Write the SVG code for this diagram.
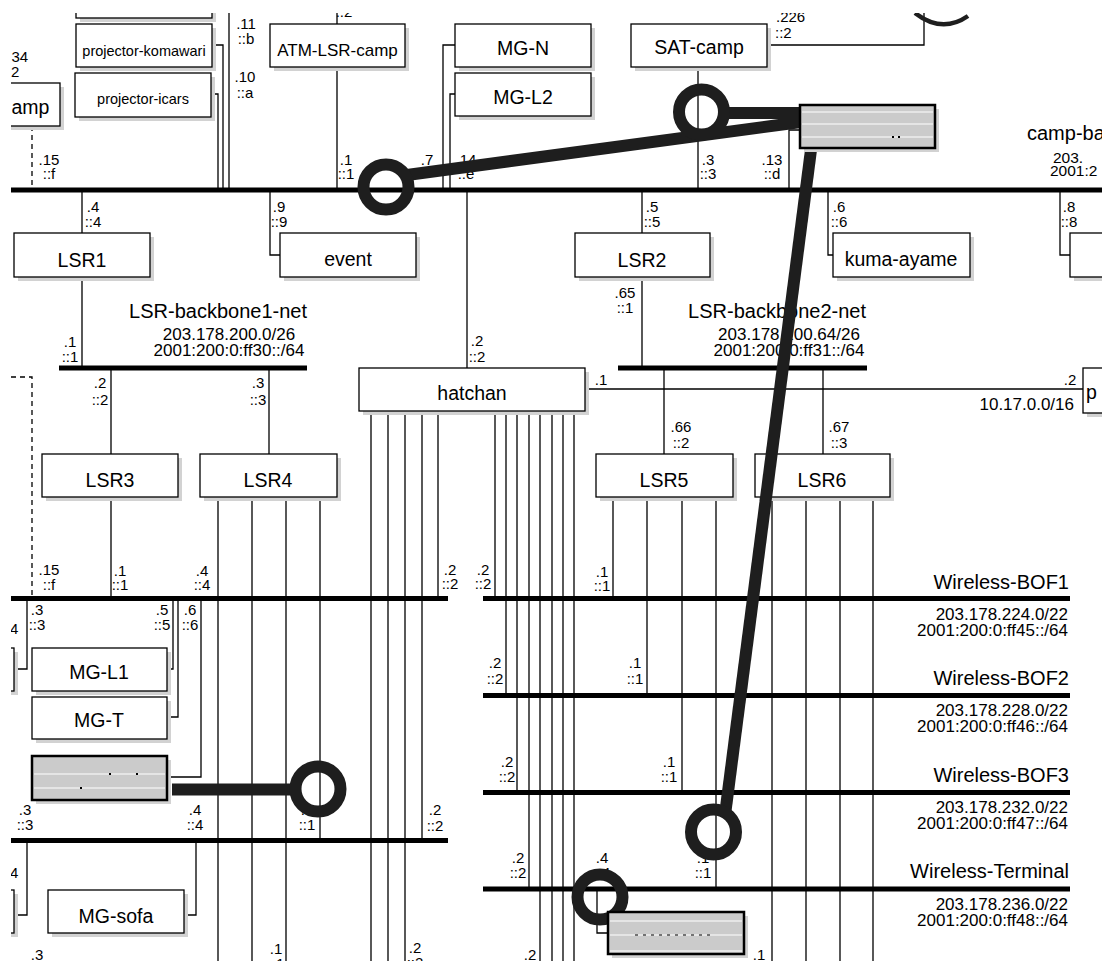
<svg xmlns="http://www.w3.org/2000/svg" width="1102" height="961" viewBox="0 0 1102 961">
<defs>
<clipPath id="cp"><rect x="11" y="13" width="1091" height="948"/></clipPath>
<style>
.ln{stroke:#000;stroke-width:1.3;fill:none}
.ds{stroke:#000;stroke-width:1.3;fill:none;stroke-dasharray:5 4}
.seg{stroke:#000;stroke-width:5;fill:none}
.box{fill:#fff;stroke:#000;stroke-width:1.3}
.shd{fill:#d2d2d2}
.gb{fill:#cbcbcb;stroke:#000;stroke-width:2.5}
.wl{stroke:#fff;stroke-width:1.2}
.dot{fill:#000}
text{font-family:"Liberation Sans",Arial,Helvetica,sans-serif;fill:#000}
.nm{font-size:19.5px;text-anchor:middle}
.sm{font-size:14.5px;text-anchor:middle}
.lb{font-size:15px;text-anchor:middle}
.ls{font-size:15px;text-anchor:start}
.nn{font-size:20px;text-anchor:end}
.ad{font-size:17px;text-anchor:end}
.ac{font-size:17px;text-anchor:middle}
.thk{stroke:#1e1e1e;stroke-width:12;fill:none}
</style>
</defs>
<rect width="1102" height="961" fill="#fff"/>
<g clip-path="url(#cp)">

<g id="connectors" class="ln">
<path d="M212,45H223V190"/>
<path d="M211,94H218V190"/>
<path d="M229,0V190"/>
<path class="ds" d="M32,126V190"/>
<path d="M337,0V24M337,67V190"/>
<path d="M455,45H443V190"/>
<path d="M455,94H450V190"/>
<path d="M467,190V368"/>
<path d="M698,67V190"/>
<path d="M767,45H924V0"/>
<path d="M800,130H789V190"/>
<path d="M82,190V233M82,277V368"/>
<path d="M270,190V255H280"/>
<path d="M642,190V233M642,277V368"/>
<path d="M828,190V255H833"/>
<path d="M1060,190V255H1070"/>
<path d="M111,368V454M111,497V598"/>
<path d="M269,368V454"/>
<path d="M218,497V961M252,497V961M286,497V961M320,497V840"/>
<path d="M585,389H1083"/>
<path d="M371,411V961M388,411V961M405,411V961M422,411V840M438,411V598"/>
<path d="M495,411V598M506,411V696M517,411V792M529,411V889M540,411V961M552,411V961M563,411V961M574,411V961"/>
<path d="M664,368V454M613,497V598M647,497V696M682,497V792M716,497V889"/>
<path d="M823,368V454M772,497V961M806,497V961M840,497V961M873,497V961"/>
<path d="M27,598V669H14"/>
<path d="M167,669H173V598"/>
<path d="M167,717H178V598"/>
<path d="M167,777H201V598"/>
<path class="ds" d="M11,377H32V598"/>
<path d="M27,840V915H14"/>
<path d="M196,840V915H184"/>
<path d="M597,889V933H608"/>
</g>

<g id="networks">
<g id="camp-backbone"><line class="seg" x1="11" y1="190" x2="1110" y2="190"/>
<text class="nn" x="1027" y="140" style="text-anchor:start">camp-ba</text>
<text class="ad" x="1053" y="163" style="text-anchor:start;font-size:15.5px">203.</text>
<text class="ad" x="1050" y="176" style="text-anchor:start;font-size:15.5px">2001:2</text></g>
<g id="LSR-backbone1-net"><line class="seg" x1="59" y1="368" x2="307" y2="368"/>
<text class="nn" x="307" y="318">LSR-backbone1-net</text>
<text class="ac" x="229" y="340">203.178.200.0/26</text>
<text class="ac" x="229" y="356">2001:200:0:ff30::/64</text></g>
<g id="LSR-backbone2-net"><line class="seg" x1="618" y1="368" x2="867" y2="368"/>
<text class="nn" x="866" y="318">LSR-backbone2-net</text>
<text class="ac" x="789" y="340">203.178.200.64/26</text>
<text class="ac" x="789" y="356">2001:200:0:ff31::/64</text></g>
<g id="net-10-17"><text class="ad" x="1074" y="410">10.17.0.0/16</text></g>
<g id="left-net1"><line class="seg" x1="11" y1="598.5" x2="448" y2="598.5"/></g>
<g id="left-net2"><line class="seg" x1="11" y1="840.5" x2="448" y2="840.5"/></g>
<g id="Wireless-BOF1"><line class="seg" x1="483" y1="598.5" x2="1070" y2="598.5"/>
<text class="nn" x="1069" y="589">Wireless-BOF1</text>
<text class="ad" x="1068" y="620">203.178.224.0/22</text>
<text class="ad" x="1068" y="636">2001:200:0:ff45::/64</text></g>
<g id="Wireless-BOF2"><line class="seg" x1="483" y1="695.5" x2="1070" y2="695.5"/>
<text class="nn" x="1069" y="685">Wireless-BOF2</text>
<text class="ad" x="1068" y="716">203.178.228.0/22</text>
<text class="ad" x="1068" y="732">2001:200:0:ff46::/64</text></g>
<g id="Wireless-BOF3"><line class="seg" x1="483" y1="792.5" x2="1070" y2="792.5"/>
<text class="nn" x="1069" y="782">Wireless-BOF3</text>
<text class="ad" x="1068" y="813">203.178.232.0/22</text>
<text class="ad" x="1068" y="829">2001:200:0:ff47::/64</text></g>
<g id="Wireless-Terminal"><line class="seg" x1="483" y1="889" x2="1070" y2="889"/>
<text class="nn" x="1069" y="878">Wireless-Terminal</text>
<text class="ad" x="1068" y="910">203.178.236.0/22</text>
<text class="ad" x="1068" y="926">2001:200:0:ff48::/64</text></g>
</g>

<g id="top-box"><rect class="shd" x="80" y="-26" width="136" height="48"/><rect class="box" x="76" y="-30" width="136" height="48"/></g>
<g id="projector-komawari"><rect class="shd" x="80" y="28" width="136" height="43"/><rect class="box" x="76" y="24" width="136" height="43"/><text class="sm" x="144" y="56">projector-komawari</text></g>
<g id="projector-icars"><rect class="shd" x="79" y="77" width="136" height="44"/><rect class="box" x="75" y="73" width="136" height="44"/><text class="sm" x="143" y="104">projector-icars</text></g>
<g id="camp"><rect class="shd" x="-96" y="87" width="160" height="43"/><rect class="box" x="-100" y="83" width="160" height="43"/><text class="nm" x="11.5" y="114" style="text-anchor:start">amp</text></g>
<g id="ATM-LSR-camp"><rect class="shd" x="274" y="28" width="135" height="43"/><rect class="box" x="270" y="24" width="135" height="43"/><text class="nm" x="337.5" y="56" style="font-size:17px">ATM-LSR-camp</text></g>
<g id="MG-N"><rect class="shd" x="459" y="28" width="136" height="43"/><rect class="box" x="455" y="24" width="136" height="43"/><text class="nm" x="523" y="55">MG-N</text></g>
<g id="MG-L2"><rect class="shd" x="459" y="77" width="136" height="43"/><rect class="box" x="455" y="73" width="136" height="43"/><text class="nm" x="523" y="104">MG-L2</text></g>
<g id="SAT-camp"><rect class="shd" x="635" y="28" width="136" height="43"/><rect class="box" x="631" y="24" width="136" height="43"/><text class="nm" x="699" y="54">SAT-camp</text></g>
<g id="LSR1"><rect class="shd" x="18" y="237" width="136" height="44"/><rect class="box" x="14" y="233" width="136" height="44"/><text class="nm" x="82" y="267">LSR1</text></g>
<g id="event"><rect class="shd" x="284" y="237" width="136" height="44"/><rect class="box" x="280" y="233" width="136" height="44"/><text class="nm" x="348" y="266">event</text></g>
<g id="LSR2"><rect class="shd" x="579" y="237" width="135" height="44"/><rect class="box" x="575" y="233" width="135" height="44"/><text class="nm" x="642" y="267">LSR2</text></g>
<g id="kuma-ayame"><rect class="shd" x="837" y="237" width="137" height="44"/><rect class="box" x="833" y="233" width="137" height="44"/><text class="nm" x="901" y="266">kuma-ayame</text></g>
<g id="right-box"><rect class="shd" x="1074" y="237" width="60" height="44"/><rect class="box" x="1070" y="233" width="60" height="44"/></g>
<g id="hatchan"><rect class="shd" x="363" y="372" width="226" height="43"/><rect class="box" x="359" y="368" width="226" height="43"/><text class="nm" x="472" y="400">hatchan</text></g>
<g id="p-box"><rect class="shd" x="1087" y="372" width="60" height="45"/><rect class="box" x="1083" y="368" width="60" height="45"/><text class="nm" x="1086" y="399" style="text-anchor:start">p</text></g>
<g id="LSR3"><rect class="shd" x="46" y="458" width="136" height="43"/><rect class="box" x="42" y="454" width="136" height="43"/><text class="nm" x="110" y="487">LSR3</text></g>
<g id="LSR4"><rect class="shd" x="204" y="458" width="137" height="43"/><rect class="box" x="200" y="454" width="137" height="43"/><text class="nm" x="268" y="487">LSR4</text></g>
<g id="LSR5"><rect class="shd" x="600" y="458" width="137" height="43"/><rect class="box" x="596" y="454" width="137" height="43"/><text class="nm" x="664" y="487">LSR5</text></g>
<g id="LSR6"><rect class="shd" x="759" y="458" width="135" height="43"/><rect class="box" x="755" y="454" width="135" height="43"/><text class="nm" x="822" y="487">LSR6</text></g>
<g id="left-box1"><rect class="shd" x="-96" y="652" width="114" height="43"/><rect class="box" x="-100" y="648" width="114" height="43"/></g>
<g id="MG-L1"><rect class="shd" x="36" y="652" width="135" height="43"/><rect class="box" x="32" y="648" width="135" height="43"/><text class="nm" x="99" y="679">MG-L1</text></g>
<g id="MG-T"><rect class="shd" x="36" y="701" width="135" height="42"/><rect class="box" x="32" y="697" width="135" height="42"/><text class="nm" x="99" y="727">MG-T</text></g>
<g id="left-box2"><rect class="shd" x="-96" y="894" width="114" height="43"/><rect class="box" x="-100" y="890" width="114" height="43"/></g>
<g id="MG-sofa"><rect class="shd" x="52" y="894" width="136" height="43"/><rect class="box" x="48" y="890" width="136" height="43"/><text class="nm" x="116" y="923">MG-sofa</text></g>

<g id="if-labels">
<text class="lb" x="246" y="29">.11</text><text class="lb" x="246" y="44">::b</text>
<text class="lb" x="245" y="82">.10</text><text class="lb" x="245" y="98">::a</text>
<text class="ls" x="11.5" y="62">34</text><text class="ls" x="11" y="77">2</text>
<text class="lb" x="344" y="17">::2</text>
<text class="ls" x="776" y="22">.226</text><text class="ls" x="775" y="38">::2</text>
<text class="lb" x="49" y="165">.15</text><text class="lb" x="49" y="179">::f</text>
<text class="lb" x="346" y="165">.1</text><text class="lb" x="346" y="179">::1</text>
<text class="lb" x="427" y="165">.7</text>
<text class="lb" x="466" y="165">.14</text><text class="lb" x="466" y="179">::e</text>
<text class="lb" x="708" y="165">.3</text><text class="lb" x="708" y="179">::3</text>
<text class="lb" x="772" y="165">.13</text><text class="lb" x="772" y="179">::d</text>
<text class="lb" x="93" y="212">.4</text><text class="lb" x="93" y="227">::4</text>
<text class="lb" x="279" y="212">.9</text><text class="lb" x="279" y="227">::9</text>
<text class="lb" x="652" y="212">.5</text><text class="lb" x="652" y="227">::5</text>
<text class="lb" x="839" y="212">.6</text><text class="lb" x="839" y="227">::6</text>
<text class="lb" x="1069" y="212">.8</text><text class="lb" x="1069" y="227">::8</text>
<text class="lb" x="625" y="298">.65</text><text class="lb" x="625" y="313">::1</text>
<text class="lb" x="70" y="347">.1</text><text class="lb" x="70" y="362">::1</text>
<text class="lb" x="477" y="346">.2</text><text class="lb" x="477" y="362">::2</text>
<text class="lb" x="100" y="388">.2</text><text class="lb" x="100" y="405">::2</text>
<text class="lb" x="258" y="388">.3</text><text class="lb" x="258" y="405">::3</text>
<text class="lb" x="601" y="385">.1</text><text class="lb" x="1070" y="385">.2</text>
<text class="lb" x="681" y="432">.66</text><text class="lb" x="681" y="448">::2</text>
<text class="lb" x="839" y="432">.67</text><text class="lb" x="839" y="448">::3</text>
<text class="lb" x="49" y="575">.15</text><text class="lb" x="49" y="590">::f</text>
<text class="lb" x="120" y="576">.1</text><text class="lb" x="120" y="590">::1</text>
<text class="lb" x="202" y="576">.4</text><text class="lb" x="202" y="590">::4</text>
<text class="lb" x="450" y="575">.2</text><text class="lb" x="450" y="589">::2</text>
<text class="lb" x="483" y="575">.2</text><text class="lb" x="483" y="589">::2</text>
<text class="lb" x="602" y="577">.1</text><text class="lb" x="602" y="591">::1</text>
<text class="lb" x="37" y="615">.3</text><text class="lb" x="37" y="630">::3</text>
<text class="lb" x="162" y="615">.5</text><text class="lb" x="162" y="630">::5</text>
<text class="lb" x="190" y="615">.6</text><text class="lb" x="190" y="630">::6</text>
<text class="ls" x="10" y="634">4</text>
<text class="lb" x="495" y="668">.2</text><text class="lb" x="495" y="684">::2</text>
<text class="lb" x="635" y="668">.1</text><text class="lb" x="635" y="684">::1</text>
<text class="lb" x="507" y="767">.2</text><text class="lb" x="507" y="782">::2</text>
<text class="lb" x="669" y="767">.1</text><text class="lb" x="669" y="782">::1</text>
<text class="lb" x="518" y="863">.2</text><text class="lb" x="518" y="878">::2</text>
<text class="lb" x="703" y="863">.1</text><text class="lb" x="703" y="878">::1</text>
<text class="lb" x="602" y="863">.4</text><text class="lb" x="602" y="878">::4</text>
<text class="lb" x="25" y="815">.3</text><text class="lb" x="25" y="830">::3</text>
<text class="lb" x="195" y="815">.4</text><text class="lb" x="195" y="830">::4</text>
<text class="lb" x="307" y="815">.1</text><text class="lb" x="307" y="830">::1</text>
<text class="lb" x="435" y="815">.2</text><text class="lb" x="435" y="831">::2</text>
<text class="ls" x="10" y="878">4</text>
<text class="lb" x="37" y="960">.3</text>
<text class="lb" x="276" y="954">.1</text><text class="lb" x="276" y="969">::1</text>
<text class="lb" x="415" y="953">.2</text><text class="lb" x="415" y="968">::2</text>
<text class="lb" x="530" y="960">.2</text>
<text class="lb" x="759" y="960">.1</text>
</g>

<g id="highlights" class="thk">
<line x1="407" y1="175" x2="801" y2="122"/>
<line x1="724" y1="113" x2="801" y2="113"/>
<line x1="811.5" y1="146" x2="725" y2="815"/>
<line x1="172" y1="789.5" x2="294" y2="789.5"/>
<circle cx="386" cy="187" r="22.5"/>
<circle cx="701.5" cy="112" r="22.5"/>
<circle cx="713.5" cy="832" r="22.5"/>
<circle cx="318" cy="789" r="22.5"/>
<circle cx="600" cy="897" r="22.5"/>
<path d="M915,13 Q942,34 968,16" style="stroke-width:4.5"/>
</g>

<g id="gray-box-top"><rect class="shd" x="804" y="109" width="135" height="43"/><rect class="gb" x="800" y="105" width="135" height="43"/>
<path class="wl" d="M802,112H933M802,124H933M802,137H933"/><rect class="dot" x="892" y="136" width="2" height="2"/><rect class="dot" x="898" y="136" width="2" height="2"/></g>
<g id="gray-box-left"><rect class="shd" x="36" y="760" width="135" height="44"/><rect class="gb" x="32" y="756" width="135" height="44"/>
<path class="wl" d="M34,774H165M34,788H165"/><rect class="dot" x="109" y="773" width="2" height="2"/><rect class="dot" x="136" y="773" width="2" height="2"/><rect class="dot" x="80" y="787" width="2" height="2"/></g>
<g id="gray-box-bottom"><rect class="shd" x="612" y="916" width="136" height="42"/><rect class="gb" x="608" y="912" width="136" height="42"/>
<path class="wl" d="M610,921H742M610,935H742M610,951H742"/><path d="M635,935H713" style="stroke:#000;stroke-width:1;stroke-dasharray:3 5"/></g>

</g>
</svg>
